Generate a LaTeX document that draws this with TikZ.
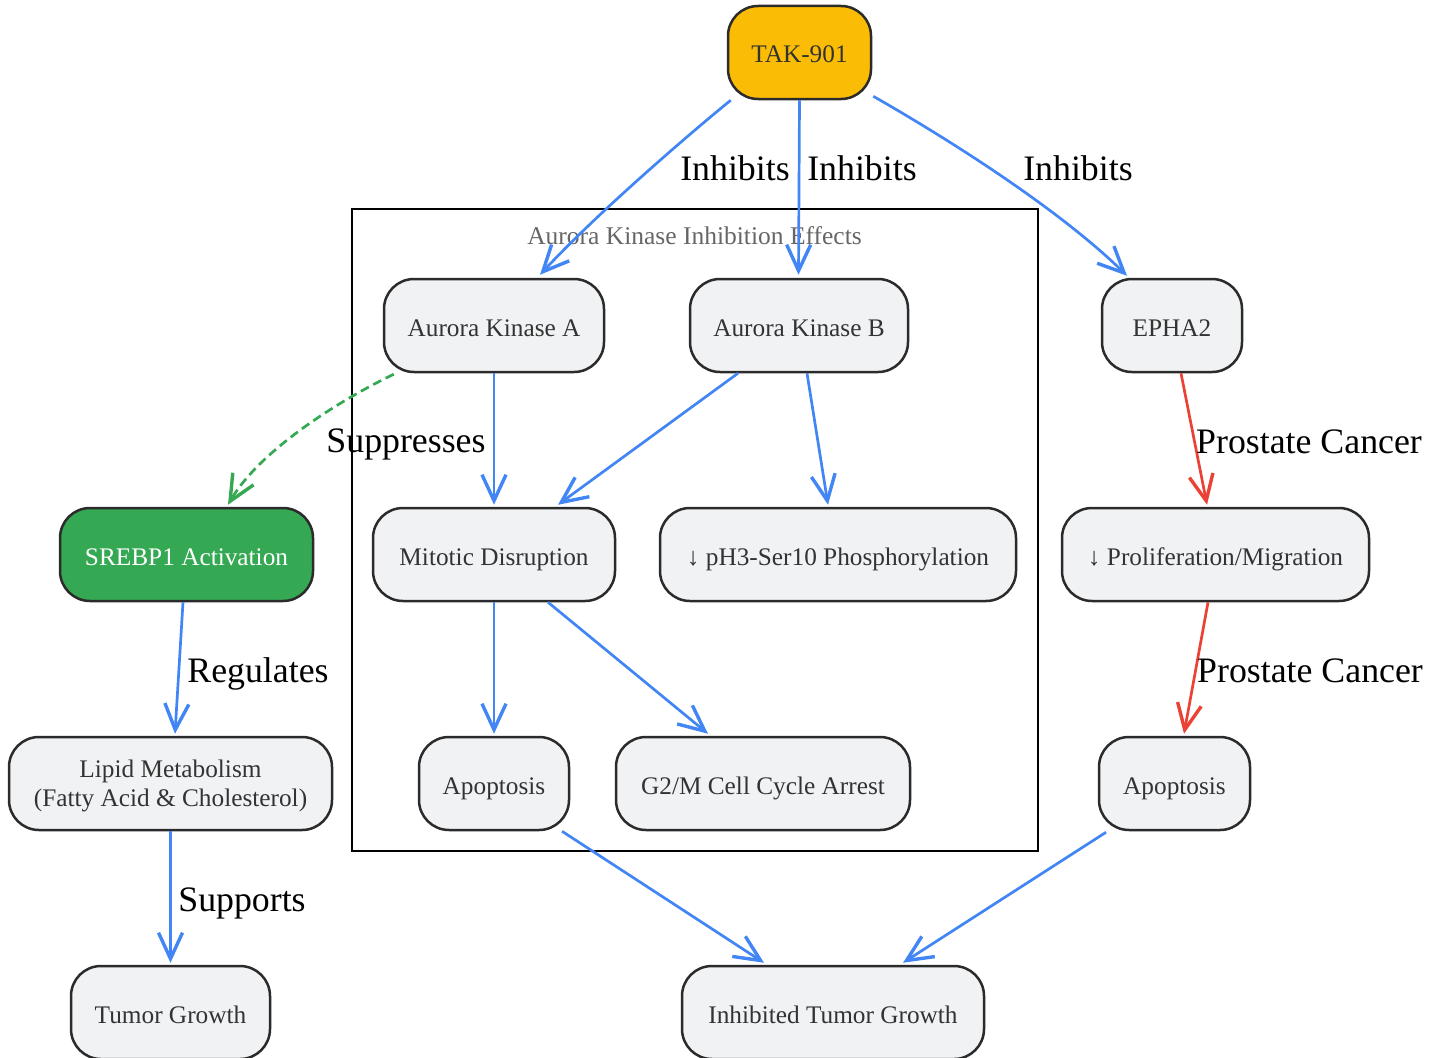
\documentclass[tikz,border=0pt]{standalone}
\usepackage{fontspec}
\setmainfont{Liberation Serif}
\usetikzlibrary{arrows.meta}
\definecolor{gblue}{HTML}{4285F4}
\definecolor{gred}{HTML}{EA4335}
\definecolor{ggreen}{HTML}{34A853}
\definecolor{gyellow}{HTML}{FBBC05}
\definecolor{nodefill}{HTML}{F1F2F4}
\definecolor{nodetext}{HTML}{333333}
\definecolor{bordercol}{HTML}{2B2B2B}
\definecolor{titlecol}{HTML}{666666}
\tikzset{
  box/.style={draw=bordercol, line width=2.5pt, fill=nodefill, rounded corners=30pt,
    minimum height=93pt, inner sep=0pt, text=nodetext,
    font=\fontsize{25.3}{28}\selectfont, text height=21pt, text depth=0pt},
  boxml/.style={box, text height=46pt, text depth=1pt, align=center},
  elabel/.style={anchor=base, inner sep=0pt, text=black, font=\fontsize{35.8}{42}\selectfont},
  edge/.style={line width=2.7pt, draw=gblue, -{Straight Barb[length=26pt,width=24pt,line width=3.4pt]}},
  redge/.style={edge, draw=gred},
  gedge/.style={edge, draw=ggreen, dash pattern=on 9pt off 5pt},
}
\begin{document}
\begin{tikzpicture}[x=1pt,y=-1pt]
\useasboundingbox (0,0) rectangle (1442,1057);
% cluster
\node[draw=black, line width=2.5pt, minimum width=686pt, minimum height=642pt, inner sep=0pt] (cluster) at (695,530) {};
\node[anchor=base, inner sep=0pt, text=titlecol, font=\fontsize{25.5}{28}\selectfont] (ctitle) at (694.5,244) {Aurora Kinase Inhibition Effects};
% nodes
\node[box, fill=gyellow, minimum width=143pt] (tak) at (799.5,52.5) {TAK-901};
\node[box, minimum width=220pt] (aka) at (494,325.5) {Aurora Kinase A};
\node[box, minimum width=218pt] (akb) at (799,325.5) {Aurora Kinase B};
\node[box, minimum width=140pt] (epha) at (1172,325.5) {EPHA2};
\node[box, fill=ggreen, text=white, minimum width=253pt] (srebp) at (186.5,554.5) {SREBP1 Activation};
\node[box, minimum width=242pt] (mit) at (494,554.5) {Mitotic Disruption};
\node[box, minimum width=356pt] (ph3) at (838,554.5) {↓ pH3-Ser10 Phosphorylation};
\node[box, minimum width=307pt] (prol) at (1215.5,554.5) {↓ Proliferation/Migration};
\node[boxml, minimum width=323pt, font=\fontsize{25.3}{28.5}\selectfont] (lipid) at (170.5,783.5) {Lipid Metabolism\\(Fatty Acid \& Cholesterol)};
\node[box, minimum width=150pt] (apo) at (494,783.5) {Apoptosis};
\node[box, minimum width=294pt] (g2m) at (763,783.5) {G2/M Cell Cycle Arrest};
\node[box, minimum width=151pt] (apor) at (1174.5,783.5) {Apoptosis};
\node[box, minimum width=199pt] (tumor) at (170.5,1012.5) {Tumor Growth};
\node[box, minimum width=302pt] (inh) at (833,1012.5) {Inhibited Tumor Growth};
% edges
\draw[edge] ([xshift=4pt]tak.south west) .. controls (700,125) and (600,210) .. ([xshift=46pt,yshift=3pt]aka.north);
\draw[edge] (tak.south) -- ([xshift=-0.5pt,yshift=3pt]akb.north);
\draw[edge] ([xshift=1pt,yshift=4pt]tak.south east) .. controls (950,140) and (1060,210) .. ([xshift=-45pt,yshift=2pt]epha.north);
\draw[edge] (aka.south) -- ([yshift=2pt]mit.north);
\draw[gedge] ([xshift=11pt,yshift=-1pt]aka.south west) .. controls (340,400) and (260,450) .. ([xshift=41.5pt,yshift=2pt]srebp.north);
\draw[edge] ([xshift=-61pt]akb.south) -- ([xshift=64pt,yshift=2pt]mit.north);
\draw[edge] ([xshift=8pt]akb.south) -- ([xshift=-10pt,yshift=2pt]ph3.north);
\draw[redge] ([xshift=9pt]epha.south) -- ([xshift=-8.5pt,yshift=2pt]prol.north);
\draw[redge] ([xshift=-7.5pt]prol.south) -- ([xshift=9.5pt,yshift=2pt]apor.north);
\draw[edge] (mit.south) -- ([yshift=2pt]apo.north);
\draw[edge] ([xshift=54pt]mit.south) -- ([xshift=-55pt,yshift=2pt]g2m.north);
\draw[edge] ([xshift=-3.5pt]srebp.south) -- ([xshift=4.5pt,yshift=2pt]lipid.north);
\draw[edge] (lipid.south) -- ([yshift=2pt]tumor.north);
\draw[edge] ([xshift=68pt]apo.south) -- ([xshift=-69pt,yshift=2pt]inh.north);
\draw[edge] ([xshift=-68.5pt,yshift=-1pt]apor.south) -- ([xshift=70pt,yshift=2pt]inh.north);
% edge labels
\node[elabel] (l1) at (735,180) {Inhibits};
\node[elabel] (l2) at (862,180) {Inhibits};
\node[elabel] (l3) at (1078,180) {Inhibits};
\node[elabel] (l4) at (406,452) {Suppresses};
\node[elabel] (l5) at (1309,453) {Prostate Cancer};
\node[elabel] (l6) at (1310,682) {Prostate Cancer};
\node[elabel] (l7) at (258,682) {Regulates};
\node[elabel] (l8) at (242,911) {Supports};
\end{tikzpicture}
\end{document}
